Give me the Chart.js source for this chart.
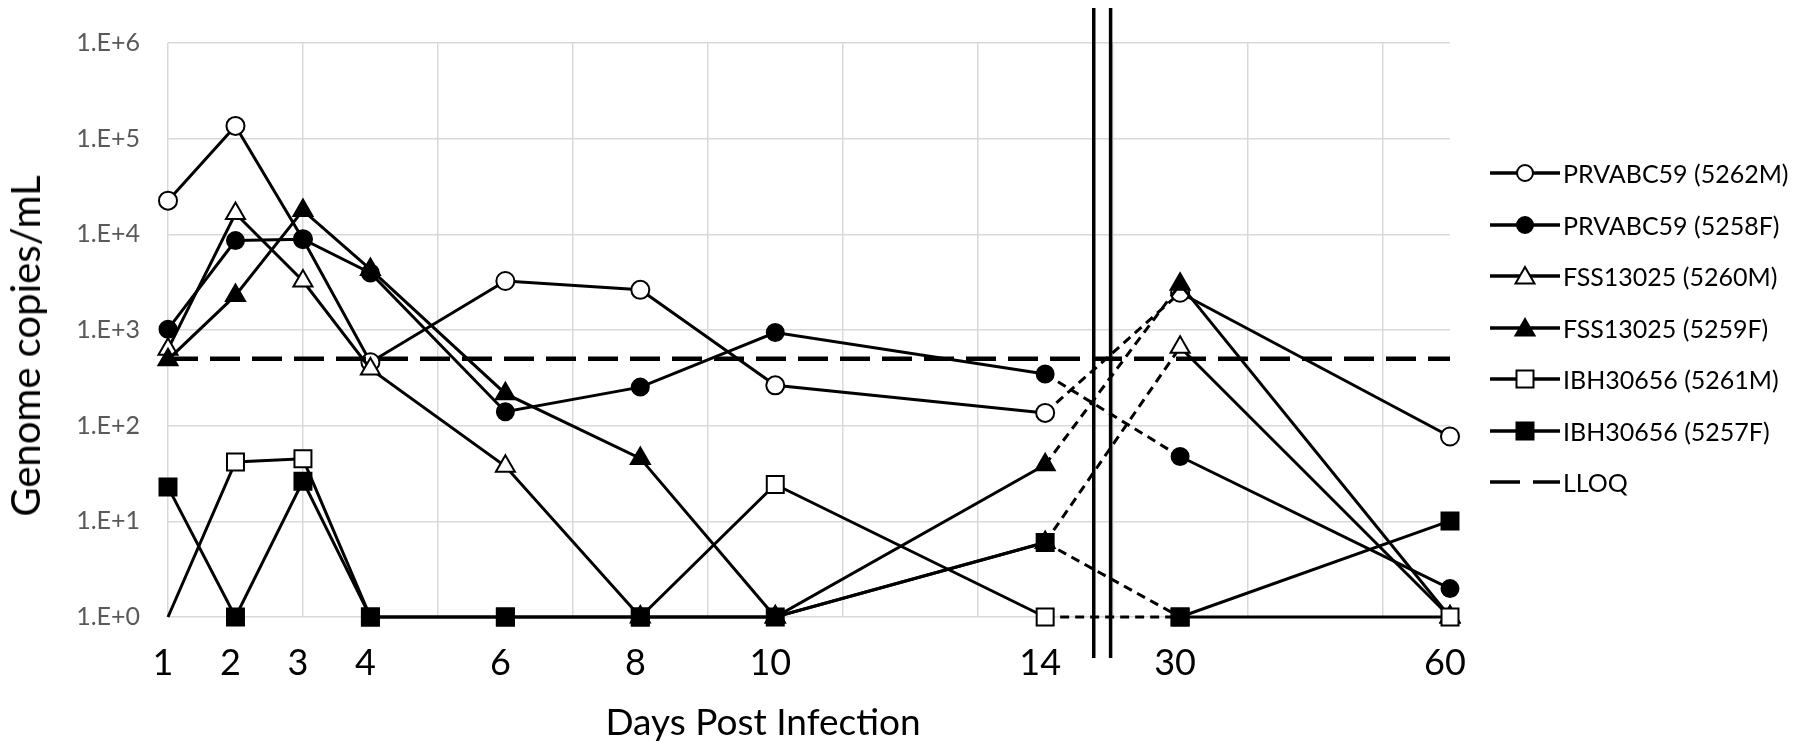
<!DOCTYPE html>
<html>
<head>
<meta charset="utf-8">
<title>Genome copies/mL by day post infection</title>
<script src="https://cdn.jsdelivr.net/npm/chart.js@4.4.1/dist/chart.umd.min.js"></script>
<style>
  body { margin: 0; background: #fff; font-family: Lato, sans-serif; }
  #wrap { position: relative; width: 1800px; height: 748px; overflow: hidden; }
  #chart { position: absolute; left: 0; top: 0; }
  .ytitle { position: absolute; left: 25px; top: 346px; transform: translate(-50%, -50%) rotate(-90deg); font-size: 40px; white-space: nowrap; color: #000; }
  .xtitle { position: absolute; left: 763px; top: 720px; transform: translate(-50%, -50%); font-size: 37px; white-space: nowrap; color: #000; }
  .row { position: absolute; left: 1490px; display: flex; align-items: center; transform: translateY(-50%); }
  .row svg { display: block; }
  .row span { font-size: 25px; margin-left: 3px; white-space: nowrap; color: #000; }
</style>
</head>
<body>
<div id="wrap">
  <canvas id="chart" width="1800" height="748"></canvas>
  <div class="ytitle">Genome copies/mL</div>
  <div class="xtitle">Days Post Infection</div>
  <div id="legend"></div>
</div>
<script>
// days sampled, and where each sits on the broken x axis (30 and 60 are squeezed in after the break)
const dayLabels = ['1', '2', '3', '4', '6', '8', '10', '14', '30', '60'];
const dayAxis = [1, 2, 3, 4, 6, 8, 10, 14, 16, 20];
const gridTicks = [1, 3, 5, 7, 9, 11, 13, 15, 17, 19];

const yTickValues = [1, 10, 100, 1e3, 1e4, 1e5, 1e6];
const yTickLabels = ['1.E+0', '1.E+1', '1.E+2', '1.E+3', '1.E+4', '1.E+5', '1.E+6'];

const seriesNames = ['PRVABC59 (5262M)', 'PRVABC59 (5258F)', 'FSS13025 (5260M)', 'FSS13025 (5259F)', 'IBH30656 (5261M)', 'IBH30656 (5257F)'];
const prv5262M = [22500, 136000, 8900, 460, 3250, 2630, 264, 136, 2450, 77];
const prv5258F = [1020, 8600, 8900, 3950, 140, 253, 940, 347, 47.6, 1.98];
const fss5260M = [630, 16500, 3250, 392, 37.6, 1, 1, 6, 660, 1];
const fss5259F = [490, 2300, 17800, 4300, 216, 45.5, 1, 39, 3000, 1];
const ibh5261M = [1, 41.7, 45, 1, 1, 1, 24.3, 1, 1, 1];
const ibh5257F = [22.8, 1, 26.3, 1, 1, 1, 1, 6, 1, 10.1];
const lloq = 500;

const seriesValues = [prv5262M, prv5258F, fss5260M, fss5259F, ibh5261M, ibh5257F];
const markers = [
  { style: 'circle', fill: '#fff', r: 9 },
  { style: 'circle', fill: '#000', r: 8.5 },
  { style: 'triangle', fill: '#fff', r: 11 },
  { style: 'triangle', fill: '#000', r: 11 },
  { style: 'rect', fill: '#fff', r: 12 },
  { style: 'rect', fill: '#000', r: 12 },
];
const breakIndex = dayLabels.indexOf('14');

const datasets = seriesValues.map((vals, i) => ({
  label: seriesNames[i],
  data: vals.map((v, j) => ({ x: dayAxis[j], y: v })),
  borderColor: '#000',
  borderWidth: 3,
  pointStyle: markers[i].style,
  // the 5261M line starts at day 1 without a marker
  pointRadius: i === 4 ? (ctx) => (ctx.dataIndex === 0 ? 0 : markers[i].r) : markers[i].r,
  pointBackgroundColor: markers[i].fill,
  pointBorderColor: '#000',
  pointBorderWidth: 2,
  tension: 0,
  clip: false,
  order: 10 - i,
  segment: {
    borderDash: (ctx) => (ctx.p0DataIndex === breakIndex ? [9, 6] : undefined),
  },
}));

datasets.push({
  label: 'LLOQ',
  data: [{ x: dayAxis[0], y: lloq }, { x: dayAxis[dayAxis.length - 1], y: lloq }],
  borderColor: '#000',
  borderWidth: 4.5,
  borderDash: [30, 12],
  pointRadius: 0,
  order: 0,
});

// the double bar marking the break in the time axis
const axisBreak = {
  id: 'axisBreak',
  afterDraw(chart) {
    const { ctx, scales } = chart;
    ctx.save();
    ctx.strokeStyle = '#000';
    ctx.lineWidth = 3.5;
    [14.72, 14.97].forEach((v) => {
      const px = scales.x.getPixelForValue(v);
      ctx.beginPath();
      ctx.moveTo(px, 8);
      ctx.lineTo(px, 658);
      ctx.stroke();
    });
    ctx.restore();
  },
};

new Chart(document.getElementById('chart'), {
  type: 'line',
  data: { datasets },
  plugins: [axisBreak],
  options: {
    responsive: false,
    animation: false,
    devicePixelRatio: 1,
    layout: { padding: { top: 38, right: 350, bottom: 0, left: 0 } },
    plugins: { legend: { display: false }, tooltip: { enabled: false } },
    scales: {
      x: {
        type: 'linear', position: 'bottom', min: 1, max: 20,
        afterBuildTicks: (s) => { s.ticks = gridTicks.map((v) => ({ value: v })); },
        afterFit: (s) => { s.height = 0; },
        ticks: { display: false },
        grid: { color: '#d9d9d9', lineWidth: 1.5, drawTicks: false },
        border: { display: false },
      },
      xLabels: {
        type: 'linear', position: 'bottom', min: 1, max: 20,
        afterBuildTicks: (s) => { s.ticks = dayAxis.map((v) => ({ value: v })); },
        afterFit: (s) => { s.height = 131; },
        ticks: {
          autoSkip: false, maxRotation: 0, padding: 25, labelOffset: -5, color: '#000',
          font: { family: 'Lato', size: 36 },
          callback: (v) => dayLabels[dayAxis.indexOf(v)],
        },
        grid: { display: false, drawTicks: false },
        border: { display: false },
      },
      y: {
        type: 'logarithmic', min: 1, max: 1e6,
        afterBuildTicks: (s) => { s.ticks = yTickValues.map((v) => ({ value: v })); },
        afterFit: (s) => { s.width = 168; },
        ticks: {
          padding: 28, color: '#595959',
          font: { family: 'Lato', size: 25 },
          callback: (v) => yTickLabels[yTickValues.indexOf(v)],
        },
        grid: { color: '#d9d9d9', lineWidth: 1.5, drawTicks: false },
        border: { display: false },
      },
    },
  },
});

// legend: line with marker, then the name
function markerSvg(m, dashed) {
  const line = dashed
    ? '<line x1="0" y1="12" x2="30" y2="12" stroke="#000" stroke-width="3.5"/><line x1="43" y1="12" x2="70" y2="12" stroke="#000" stroke-width="3.5"/>'
    : '<line x1="0" y1="12" x2="70" y2="12" stroke="#000" stroke-width="3.5"/>';
  let shape = '';
  if (m && m.style === 'circle') shape = `<circle cx="35" cy="12" r="8" fill="${m.fill}" stroke="#000" stroke-width="2"/>`;
  if (m && m.style === 'triangle') shape = `<polygon points="35,3 44.5,19.5 25.5,19.5" fill="${m.fill}" stroke="#000" stroke-width="2"/>`;
  if (m && m.style === 'rect') shape = `<rect x="26.5" y="3.5" width="17" height="17" fill="${m.fill}" stroke="#000" stroke-width="2"/>`;
  return `<svg width="70" height="24" viewBox="0 0 70 24">${line}${shape}</svg>`;
}
const legendRoot = document.getElementById('legend');
const legendNames = seriesNames.concat(['LLOQ']);
const rowTop = 173;
const rowStep = 51.5;
legendNames.forEach((name, i) => {
  const row = document.createElement('div');
  row.className = 'row';
  row.style.top = `${rowTop + i * rowStep}px`;
  row.innerHTML = markerSvg(markers[i], i === seriesNames.length) + `<span>${name}</span>`;
  legendRoot.appendChild(row);
});
</script>
</body>
</html>
